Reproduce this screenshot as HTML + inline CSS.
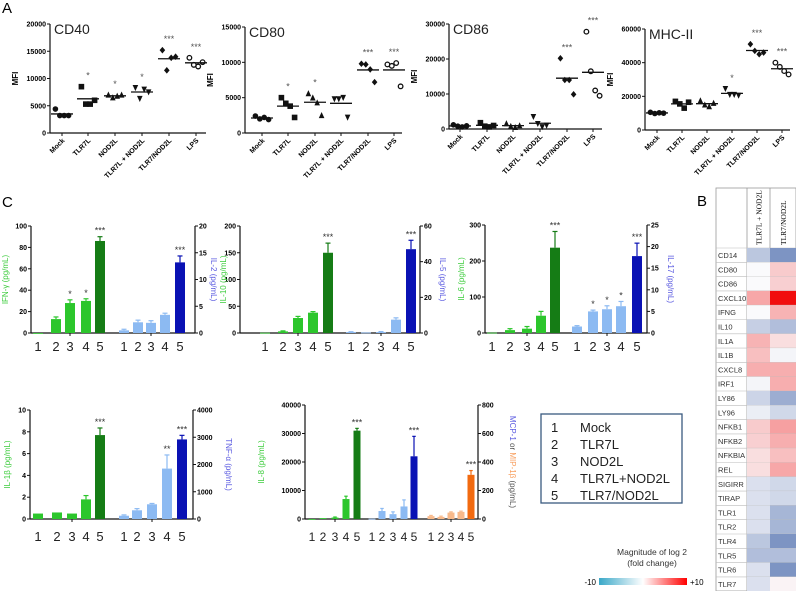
<!DOCTYPE html>
<html><head><meta charset="utf-8"><style>
body{margin:0;background:#fff;}
svg{display:block;font-family:"Liberation Sans",sans-serif;}
</style></head><body>
<svg id="fig" width="796" height="591" viewBox="0 0 796 591">
<text x="2" y="13" font-size="15">A</text>
<text x="2" y="207" font-size="15">C</text>
<text x="697" y="206" font-size="15">B</text>
<g id="legendbox">
<rect x="541" y="414" width="141" height="89" fill="#fff" stroke="#3a5a80" stroke-width="1.3"/>
<g font-size="13" fill="#222">
<text x="551" y="432">1</text><text x="580" y="432">Mock</text>
<text x="551" y="449">2</text><text x="580" y="449">TLR7L</text>
<text x="551" y="466">3</text><text x="580" y="466">NOD2L</text>
<text x="551" y="483">4</text><text x="580" y="483">TLR7L+NOD2L</text>
<text x="551" y="500">5</text><text x="580" y="500">TLR7/NOD2L</text>
</g></g>
<g>
<defs><linearGradient id="cb" x1="0" x2="1"><stop offset="0" stop-color="#3aa8c8"/><stop offset="0.5" stop-color="#fff"/><stop offset="1" stop-color="#f00"/></linearGradient></defs>
<text x="652" y="555" font-size="8.5" text-anchor="middle" fill="#333">Magnitude of log 2</text>
<text x="652" y="566" font-size="8.5" text-anchor="middle" fill="#333">(fold change)</text>
<rect x="599" y="578" width="88" height="7" fill="url(#cb)"/>
<text x="596" y="585" font-size="8" text-anchor="end">-10</text>
<text x="690" y="585" font-size="8">+10</text>
</g>
<g id="scat"></g><g id="bars"></g><g id="heat"></g>
</svg>
<script>
const NS="http://www.w3.org/2000/svg";
function mk(parent,tag,attrs,txt){const e=document.createElementNS(NS,tag);for(const k in attrs)e.setAttribute(k,attrs[k]);if(txt!==undefined)e.textContent=txt;parent.appendChild(e);return e;}

// ---------- Panel A data ----------
const groups=["Mock","TLR7L","NOD2L","TLR7L + NOD2L","TLR7/NOD2L","LPS"];
const cd40=[[4400,3200,3200,3200],[8500,5300,5300,6000],[7000,6500,6800,7000],[8300,6300,8000,7500],[15200,11500,13800,14000],[13800,12500,12200,13000]];
const cd80=[[2400,2000,2200,1900],[5000,4200,3800,2200],[5600,5000,4300,2500],[4800,4800,5000,2200],[9800,9700,9000,7200],[9700,9500,9900,6600]];
const cd86=[[1200,800,600,900],[1800,800,600,1000],[1600,800,500,1000],[3500,1500,600,1000],[20200,14000,14000,9900],[27800,16500,11000,9500]];
const mhc=[[10500,9800,10200,10000],[17000,15500,13000,16500],[17500,15000,14000,16000],[24500,21000,21000,20500],[51000,47000,45000,46000],[40000,37500,35000,33000]];
const cd40Stars=["","*","*","*","***","***"];
const cd80Stars=["","*","*","","***","***"];
const cd86Stars=["","","","","***","***"];
const mhcStars=["","","","*","***","***"];
const cd40Ticks=[0,5000,10000,15000,20000];
const cd80Ticks=[0,5000,10000,15000];
const cd86Ticks=[0,10000,20000,30000];
const mhcTicks=[0,20000,40000,60000];

function marker(g,i,x,y){
  const r=2.8;
  if(i===0)return mk(g,"circle",{cx:x,cy:y,r:r,fill:"#111"});
  if(i===1)return mk(g,"rect",{x:x-r,y:y-r,width:2*r,height:2*r,fill:"#111"});
  if(i===2)return mk(g,"polygon",{points:`${x},${y-r-0.5} ${x-r},${y+r} ${x+r},${y+r}`,fill:"#111"});
  if(i===3)return mk(g,"polygon",{points:`${x},${y+r+0.5} ${x-r},${y-r} ${x+r},${y-r}`,fill:"#111"});
  if(i===4)return mk(g,"polygon",{points:`${x},${y-r-0.5} ${x+r},${y} ${x},${y+r+0.5} ${x-r},${y}`,fill:"#111"});
  return mk(g,"circle",{cx:x,cy:y,r:r-0.5,fill:"#fff",stroke:"#111","stroke-width":1.3});
}
function scatter(name,title,data,stars,ticks,ax,x0,x1,yTop,y0,cats){
  const root=document.getElementById("scat");
  const g=mk(root,"g",{});
  
  
  const max=ticks[ticks.length-1];
  const Y=v=>y0-(v/max)*(y0-yTop);
  mk(g,"line",{x1:ax,y1:yTop,x2:ax,y2:y0,stroke:"#111","stroke-width":1.2});
  mk(g,"line",{x1:ax,y1:y0,x2:x1,y2:y0,stroke:"#111","stroke-width":1.2});
  ticks.forEach(t=>{mk(g,"line",{x1:ax-3,y1:Y(t),x2:ax,y2:Y(t),stroke:"#111"});
    const tl=mk(g,"text",{x:ax-4,y:Y(t)+2.5,"font-size":7,"font-weight":"bold","text-anchor":"end"},String(t));
    });
  const tt=mk(g,"text",{x:ax+4,y:yTop+10,"font-size":14,fill:"#222"},title);
  
  const yl=mk(g,"text",{x:0,y:0,"font-size":8,"font-weight":"bold","text-anchor":"middle",transform:`translate(${ax-32},${(yTop+y0)/2}) rotate(-90)`},"MFI");
  
  data.forEach((pts,i)=>{
    const cx=cats[i];
    mk(g,"line",{x1:cx,y1:y0,x2:cx,y2:y0+3,stroke:"#111"});
    const lab=mk(g,"text",{x:0,y:0,"font-size":7,"font-weight":"bold","text-anchor":"end",transform:`translate(${cx+3},${y0+8}) rotate(-45)`},groups[i]);
    
    const offs=[-6,-2,2,6];
    pts.forEach((v,j)=>{const m=marker(g,i,cx+offs[j]*1.1,Y(v));
      });
    const mean=pts.reduce((a,b)=>a+b,0)/pts.length;
    const ml=mk(g,"line",{x1:cx-11,y1:Y(mean),x2:cx+11,y2:Y(mean),stroke:"#111","stroke-width":1.3});
    
    if(stars[i]){const top=Math.max(...pts);
      const s=mk(g,"text",{x:cx,y:Y(top)-8,"font-size":9,"text-anchor":"middle",fill:"#555"},stars[i]);
      }
  });
}
scatter("cd40","CD40",cd40,cd40Stars,cd40Ticks,50,50,206,24,133,[62,88,115,142,169,196]);
scatter("cd80","CD80",cd80,cd80Stars,cd80Ticks,245,245,402,27,133,[262,288,315,341,368,394]);
scatter("cd86","CD86",cd86,cd86Stars,cd86Ticks,449,449,602,24,129,[460,487,513,540,567,593]);
scatter("mhc","MHC-II",mhc,mhcStars,mhcTicks,645,645,790,29,130,[657,682,707,732,757,782]);

// ---------- Panel C data ----------
const ifng=[0,13,28,30,86], ifngErr=[0,2,3,2,4], ifngStars=["","","*","*","***"];
const il2=[0.5,2,1.9,3.4,13.2], il2Err=[0.2,0.4,0.4,0.3,1.2], il2Stars=["","","","","***"];
const il10=[0.5,3,28,38,150], il10Err=[0,1,3,2,18], il10Stars=["","","","","***"];
const il5=[0.5,0.3,0.5,7.5,47], il5Err=[0.2,0,0.3,1,5], il5Stars=["","","","","***"];
const il6=[1,8,12,48,237], il6Err=[0,4,6,12,45], il6Stars=["","","","","***"];
const il17=[1.5,5,5.5,6.2,17.8], il17Err=[0.2,0.3,0.8,1.1,3], il17Stars=["","*","*","*","***"];
const il1b=[0.5,0.6,0.5,1.8,7.7], il1bErr=[0,0,0,0.35,0.65], il1bStars=["","","","","***"];
const tnf=[120,320,540,1850,2920], tnfErr=[30,60,30,500,150], tnfStars=["","","","**","***"];
const il8=[0,300,500,7000,31000], il8Err=[0,0,200,1000,800], il8Stars=["","","","","***"];
const mcp1=[2,56,34,88,440], mcp1Err=[0,18,16,46,140], mcp1Stars=["","","","","***"];
const mip1b=[20,15,45,50,310], mip1bErr=[5,5,5,5,30], mip1bStars=["","","","","***"];
const catLabels=["1","2","3","4","5"];

const GL="#2cc62c",GD="#157c15",BL="#8cbaf2",BD="#0a12b4",OL="#f8b98a",OD="#f26a10";
function barchart(name,cfg){
  const root=document.getElementById("bars");
  const g=mk(root,"g",{});
  
  
  const {lx,rx,yTop,y0,labY,bw,fs}=cfg;
  const axis=(ax,ticks,right)=>{
    const max=ticks[ticks.length-1];
    mk(g,"line",{x1:ax,y1:yTop,x2:ax,y2:y0,stroke:"#111","stroke-width":1.2});
    ticks.forEach(t=>{const y=y0-t/max*(y0-yTop);
      mk(g,"line",{x1:right?ax:ax-3,y1:y,x2:right?ax+3:ax,y2:y,stroke:"#111"});
      const tl=mk(g,"text",{x:right?ax+4:ax-4,y:y+2.5,"font-size":7,"font-weight":"bold","text-anchor":right?"start":"end"},String(t));
      });
  };
  axis(lx,cfg.lt,false); axis(rx,cfg.rt,true);
  mk(g,"line",{x1:lx,y1:y0,x2:rx,y2:y0,stroke:"#111","stroke-width":1.2});
  const ll=mk(g,"text",{x:0,y:0,"font-size":8,fill:"#3ccc3c","text-anchor":"middle",transform:`translate(${cfg.llx},${(yTop+y0)/2}) rotate(-90)`},cfg.lLabel);
  
  const rl=mk(g,"text",{x:0,y:0,"font-size":8,fill:"#5a5ae0","text-anchor":"middle",transform:`translate(${cfg.rlx},${(yTop+y0)/2}) rotate(90)`});
  
  cfg.rLabel.forEach(p=>{mk(rl,"tspan",{fill:p[1]},p[0]);});
  cfg.series.forEach(s=>{
    const max=s.right?cfg.rt[cfg.rt.length-1]:cfg.lt[cfg.lt.length-1];
    const Y=v=>y0-v/max*(y0-yTop);
    mk(g,"line",{x1:s.pos[2],y1:y0,x2:s.pos[2],y2:y0+3,stroke:"#111"});
    s.vals.forEach((v,i)=>{
      const x=s.pos[i], col=i===4?s.dark:s.light;
      const yv=Y(v);
      if(s.err[i]>0){const ye=Y(v+s.err[i]);
        mk(g,"line",{x1:x,y1:yv,x2:x,y2:ye,stroke:col,"stroke-width":1.2});
        mk(g,"line",{x1:x-bw/4,y1:ye,x2:x+bw/4,y2:ye,stroke:col,"stroke-width":1.2});}
      const b=mk(g,"rect",{x:x-bw/2,y:yv,width:bw,height:Math.max(y0-yv,0.8),fill:col});
      
      if(s.stars[i]){const st=mk(g,"text",{x:x,y:Y(v+s.err[i])-3,"font-size":9,"text-anchor":"middle",fill:"#333"},s.stars[i]);
        }
      const cl=mk(g,"text",{x:x,y:labY,"font-size":fs,"text-anchor":"middle",fill:"#222"},catLabels[i]);
      
    });
  });
}
barchart("ifng-il2",{lx:31,rx:195,yTop:226,y0:333,labY:351,bw:10,fs:13,lt:[0,20,40,60,80,100],rt:[0,5,10,15,20],llx:8,rlx:211,
  lLabel:"IFN-γ (pg/mL)",rLabel:[["IL-2 (pg/mL)","#5a5ae0"]],
  series:[{pos:[38,56,70,86,100],vals:ifng,err:ifngErr,stars:ifngStars,light:GL,dark:GD},
          {pos:[124,138,151,165,180],vals:il2,err:il2Err,stars:il2Stars,light:BL,dark:BD,right:true}]});
barchart("il10-il5",{lx:240,rx:420,yTop:226,y0:333,labY:351,bw:10,fs:13,lt:[0,50,100,150,200],rt:[0,20,40,60],llx:226,rlx:440,
  lLabel:"IL-10 (pg/mL)",rLabel:[["IL-5 (pg/mL)","#5a5ae0"]],
  series:[{pos:[265,283,298,313,328],vals:il10,err:il10Err,stars:il10Stars,light:GL,dark:GD},
          {pos:[351,366,381,396,411],vals:il5,err:il5Err,stars:il5Stars,light:BL,dark:BD,right:true}]});
barchart("il6-il17",{lx:485,rx:647,yTop:225,y0:333,labY:351,bw:10,fs:13,lt:[0,100,200,300],rt:[0,5,10,15,20,25],llx:464,rlx:668,
  lLabel:"IL-6 (pg/mL)",rLabel:[["IL-17 (pg/mL)","#5a5ae0"]],
  series:[{pos:[492,510,527,541,555],vals:il6,err:il6Err,stars:il6Stars,light:GL,dark:GD},
          {pos:[577,593,607,621,637],vals:il17,err:il17Err,stars:il17Stars,light:BL,dark:BD,right:true}]});
barchart("il1b-tnf",{lx:30,rx:193,yTop:410,y0:519,labY:541,bw:10,fs:13,lt:[0,2,4,6,8,10],rt:[0,1000,2000,3000,4000],llx:10,rlx:226,
  lLabel:"IL-1β (pg/mL)",rLabel:[["TNF-α (pg/mL)","#5a5ae0"]],
  series:[{pos:[38,57,72,86,100],vals:il1b,err:il1bErr,stars:il1bStars,light:GL,dark:GD},
          {pos:[124,137,152,167,182],vals:tnf,err:tnfErr,stars:tnfStars,light:BL,dark:BD,right:true}]});
barchart("il8-mcp1-mip1b",{lx:305,rx:478,yTop:405,y0:519,labY:541,bw:7,fs:12,lt:[0,10000,20000,30000,40000],rt:[0,200,400,600,800],llx:264,rlx:510,
  lLabel:"IL-8 (pg/mL)",rLabel:[["MCP-1","#5a5ae0"],[" or ","#555"],["MIP-1β","#f8a060"],[" (pg/mL)","#555"]],
  series:[{pos:[312,323,335,346,357],vals:il8,err:il8Err,stars:il8Stars,light:GL,dark:GD},
          {pos:[372,382,393,404,414],vals:mcp1,err:mcp1Err,stars:mcp1Stars,light:BL,dark:BD,right:true},
          {pos:[431,441,451,461,471],vals:mip1b,err:mip1bErr,stars:mip1bStars,light:OL,dark:OD,right:true}]});

// ---------- Panel B heatmap ----------
const genes=["CD14","CD80","CD86","CXCL10","IFNG","IL10","IL1A","IL1B","CXCL8","IRF1","LY86","LY96","NFKB1","NFKB2","NFKBIA","REL","SIGIRR","TIRAP","TLR1","TLR2","TLR4","TLR5","TLR6","TLR7"];
const conds=["TLR7L + NOD2L","TLR7/NOD2L"];
const logfcCombo=[-3,0,0,3.5,0,-2.5,3,2.5,3.2,-0.3,-2.2,-0.7,2,1.8,1.2,1.2,-1.5,-1.5,-1.5,-1.5,-3,-3.5,-1.5,-1.5];
const logfcConj=[-6,2,1.8,10,3,-3.5,1.2,-0.3,3.2,3.2,-4.5,-2,3.8,3.2,2.5,3.5,-2,-2,-4,-4,-6,-3.5,-6,0.3];
function heatColor(v){
  const t=Math.min(Math.abs(v)/10,1);
  const c=v>=0?[240,0,0]:[60,95,165];
  const base=[250,250,252];
  const k=v>=0?t*0.95:t*1.1;
  const kk=Math.min(k,1);
  return `rgb(${Math.round(base[0]+(c[0]-base[0])*kk)},${Math.round(base[1]+(c[1]-base[1])*kk)},${Math.round(base[2]+(c[2]-base[2])*kk)})`;
}
(function(){
  const g=document.getElementById("heat");
  
  const x0=716,xc=[747,770],cw=[23,26],top=188,hy=248,rh=14.3;
  mk(g,"rect",{x:x0,y:top,width:796-x0,height:591-top,fill:"#fff",stroke:"#999","stroke-width":0.8});
  mk(g,"line",{x1:xc[0],y1:top,x2:xc[0],y2:591,stroke:"#999","stroke-width":0.8});
  mk(g,"line",{x1:xc[1],y1:top,x2:xc[1],y2:591,stroke:"#999","stroke-width":0.8});
  conds.forEach((c,j)=>{const t=mk(g,"text",{x:0,y:0,"font-size":7.5,"font-family":"Liberation Serif, serif","text-anchor":"start",transform:`translate(${xc[j]+cw[j]/2+3},${hy-3}) rotate(-90)`},c);
    });
  genes.forEach((gn,i)=>{
    const y=hy+i*rh;
    mk(g,"line",{x1:x0,y1:y,x2:796,y2:y,stroke:"#bbb","stroke-width":0.6});
    const l=mk(g,"text",{x:x0+2,y:y+10,"font-size":7.5,fill:"#333"},gn);
    
    [logfcCombo[i],logfcConj[i]].forEach((v,j)=>{
      const r=mk(g,"rect",{x:xc[j],y:y,width:cw[j],height:rh,fill:heatColor(v)});
      
    });
  });
})();
</script>
</body></html>
